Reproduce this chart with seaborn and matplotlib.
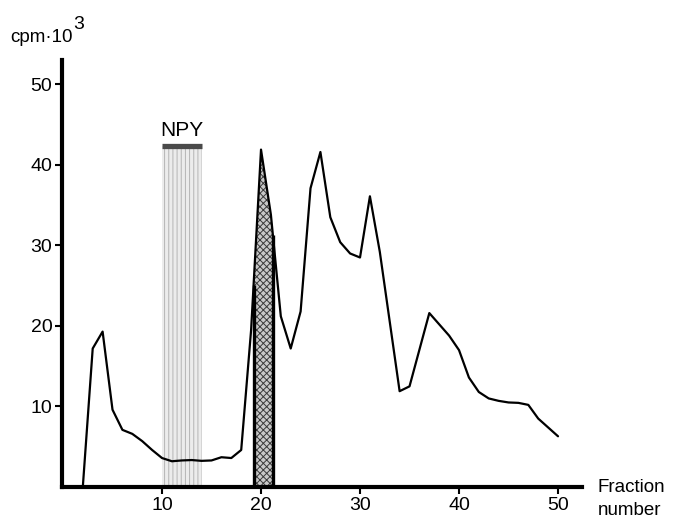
import numpy as np
import matplotlib
matplotlib.use("Agg")
import matplotlib.pyplot as plt
import seaborn as sns

# --- style ---
sns.set_style("ticks", {"axes.edgecolor": "black", "xtick.color": "black",
                        "ytick.color": "black", "text.color": "black"})
plt.rcParams["font.family"] = ["Liberation Sans", "DejaVu Sans"]
plt.rcParams["hatch.linewidth"] = 0.7

# --- data ---
fraction = [2, 3, 4, 5, 6, 7, 8, 9, 10, 11, 12, 13, 14, 15, 16, 17, 18, 19,
            20, 21, 22, 23, 24, 25, 26, 27, 28, 29, 30, 31, 32, 34, 35, 37,
            38, 39, 40, 41, 42, 43, 44, 45, 46, 47, 48, 49, 50]
cpm = [0.0, 17.2, 19.3, 9.6, 7.1, 6.6, 5.7, 4.6, 3.6, 3.2, 3.3, 3.35, 3.25, 3.3,
       3.7, 3.6, 4.6, 19.5, 41.9, 33.8, 21.2, 17.2, 21.8, 37.1, 41.6, 33.5,
       30.4, 29.0, 28.5, 36.1, 29.2, 11.9, 12.5, 21.6, 20.2, 18.8, 17.0, 13.6,
       11.8, 11.0, 10.7, 10.5, 10.45, 10.2, 8.5, 7.4, 6.3]

npy_range = [10, 14]     # fractions where NPY standard elutes
npy_top = 42.3
peak_range = [19.25, 21.2]  # shaded peak
x_ticks = [10, 20, 30, 40, 50]
y_ticks = [10, 20, 30, 40, 50]

fig = plt.figure(figsize=(6.83, 5.18), dpi=100)
ax = fig.add_axes([0.0908, 0.0598, 0.761, 0.824])

# NPY marker band
ax.fill_between(npy_range, 0, npy_top, facecolor="#ececec", hatch="||||",
                edgecolor="#b4b4b4", linewidth=0, zorder=1)
ax.plot(npy_range, [npy_top, npy_top], color="#4a4a4a", lw=3.8,
        solid_capstyle="butt", zorder=2)
ax.text(np.mean(npy_range), npy_top + 1.3, "NPY", ha="center", va="baseline",
        fontsize=15, color="black")

# shaded peak under the curve
xs = np.linspace(peak_range[0], peak_range[1], 80)
ys = np.interp(xs, fraction, cpm)
ax.fill_between(xs, 0, ys, facecolor="#c8c8c8", hatch="xxxxx",
                edgecolor="#3a3a3a", linewidth=0, zorder=2)
ax.vlines(peak_range, 0, np.interp(peak_range, fraction, cpm),
          color="black", lw=2.4, zorder=3)

# the profile
sns.lineplot(x=fraction, y=cpm, color="black", lw=1.6, ax=ax, zorder=4)

ax.set_xlim(-0.1, 52.4)
ax.set_ylim(0, 53)
ax.set_xticks(x_ticks)
ax.set_yticks(y_ticks)
ax.tick_params(direction="out", length=5, width=1.5, labelsize=14, pad=2,
               colors="black")
for side in ["top", "right"]:
    ax.spines[side].set_visible(False)
for side in ["left", "bottom"]:
    ax.spines[side].set_linewidth(3)
    ax.spines[side].set_color("black")
ax.set_xlabel("")
ax.set_ylabel("")

# axis captions
fig.text(0.0146, 0.919, "cpm·10", fontsize=13.5, va="baseline", color="black")
fig.text(0.107, 0.944, "3", fontsize=14, va="baseline", color="black")
fig.text(0.8755, 0.0598, "Fraction", fontsize=13.5, va="center", color="black")
fig.text(0.8755, 0.0154, "number", fontsize=13.5, va="center", color="black")

fig.savefig("out.png", dpi=100)
